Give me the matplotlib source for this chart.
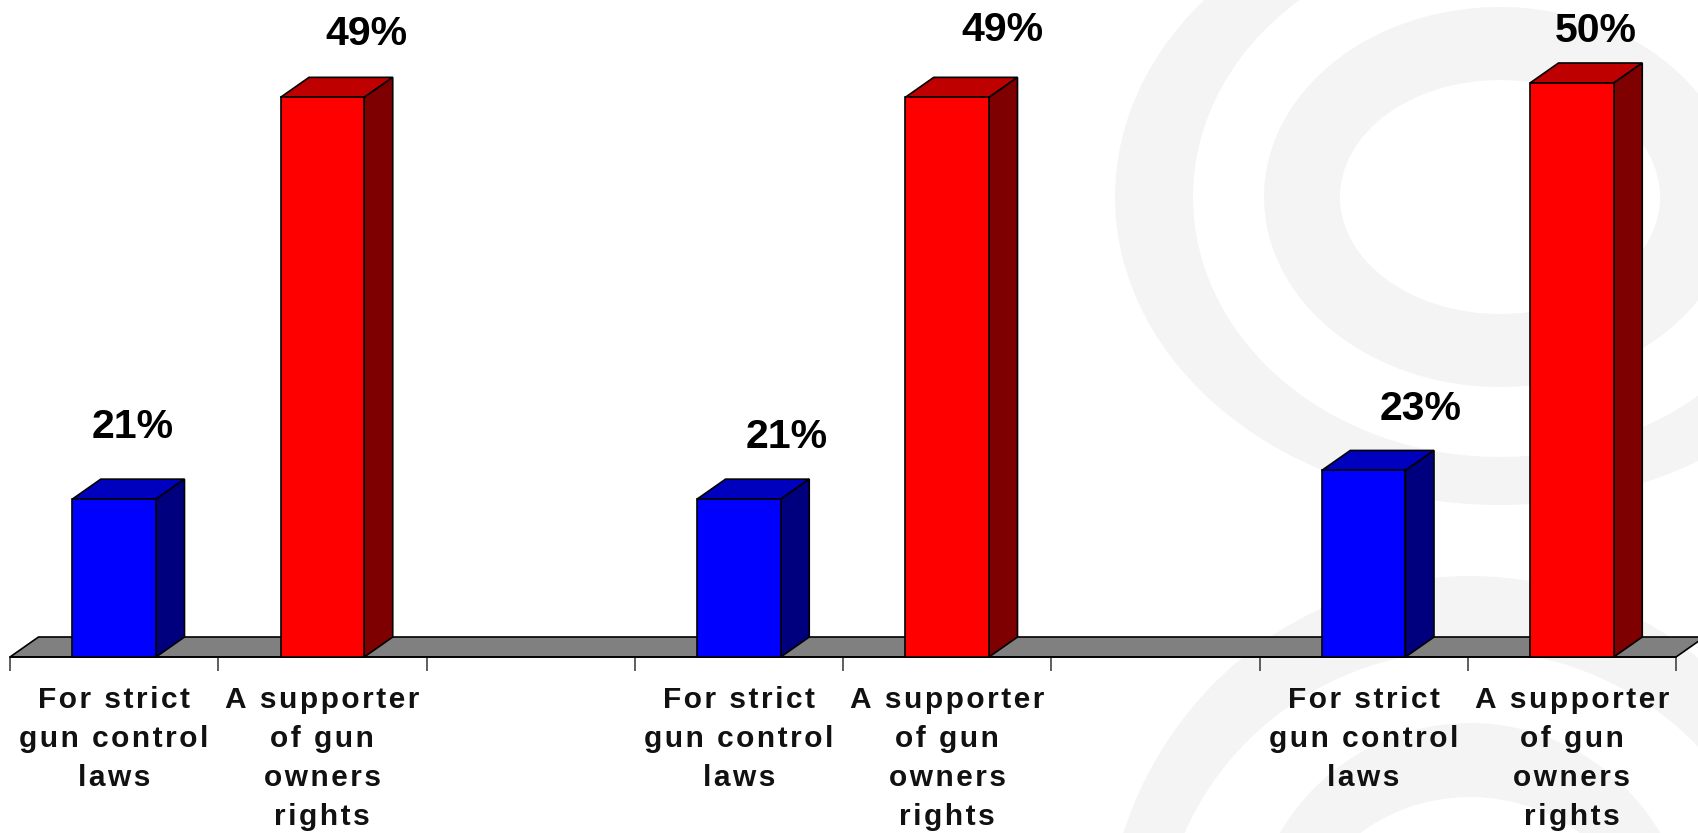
import matplotlib
matplotlib.use('Agg')
import matplotlib.pyplot as plt
from matplotlib.patches import Ellipse, Polygon
from matplotlib.transforms import IdentityTransform

plt.rcParams['font.family'] = ['Liberation Sans', 'DejaVu Sans']

# slots 2 and 5 on the category axis are empty spacers
slots = [0, 1, 3, 4, 6, 7]
labels = ['For strict\ngun control\nlaws', 'A supporter\nof gun\nowners\nrights'] * 3
values = [21, 49, 21, 49, 23, 50]
value_labels = ['21%', '49%', '21%', '49%', '23%', '50%']
n_slots = 8
y_base = 10
y_top = 50

front_colors = {'blue': '#0000ff', 'red': '#ff0000'}
top_colors = {'blue': '#0000bf', 'red': '#bf0000'}
side_colors = {'blue': '#00007f', 'red': '#7f0000'}
series = ['blue', 'red'] * 3


def tracked(s):
    # the source labels are letter spaced, matplotlib has no tracking option
    return '\n'.join('\u200a'.join(line) for line in s.split('\n'))


W, H = 1698, 833
fig = plt.figure(figsize=(W / 100, H / 100), dpi=100, facecolor='white')

# faint swirl behind the chart: (cx, cy, outer rx, outer ry, inner rx, inner ry) in px from top left
swirl = [
    (1500, 197, 385, 308, 307, 260),
    (1500, 197, 236, 190, 160, 117),
    (1470, 950, 365, 374, 310, 300),
    (1470, 950, 222, 227, 170, 153),
]
for cx, cy, rx, ry, irx, iry in swirl:
    fig.add_artist(Ellipse((cx, H - cy), 2 * rx, 2 * ry, color='#f4f4f4', lw=0, zorder=-2,
                           transform=IdentityTransform()))
    fig.add_artist(Ellipse((cx, H - cy), 2 * irx, 2 * iry, color='white', lw=0, zorder=-2,
                           transform=IdentityTransform()))

ax = fig.add_axes([10 / W, (H - 657) / H, 1666 / W, 574 / H])
ax.patch.set_alpha(0)
ax.set_xlim(0, n_slots)
ax.set_ylim(y_base, y_top)

# depth of the fake 3d, in data units
dx = 28.5 / (1666 / n_slots)
dy = 20 / (574 / (y_top - y_base))
bar_w = 0.402
lw = 1.2

floor = Polygon([(0, y_base), (dx, y_base + dy), (n_slots + dx, y_base + dy), (n_slots, y_base)],
                facecolor='#808080', edgecolor='black', lw=lw, clip_on=False, zorder=1)
ax.add_patch(floor)

for slot, v, s in zip(slots, values, series):
    x0 = slot + 0.5 - bar_w / 2
    x1 = slot + 0.5 + bar_w / 2
    ax.bar(x0, v - y_base, bar_w, bottom=y_base, align='edge', color=front_colors[s], edgecolor='black',
           lw=lw, clip_on=False, zorder=3)
    ax.add_patch(Polygon([(x0, v), (x0 + dx, v + dy), (x1 + dx, v + dy), (x1, v)], facecolor=top_colors[s],
                         edgecolor='black', lw=lw, clip_on=False, zorder=2))
    ax.add_patch(Polygon([(x1, y_base), (x1 + dx, y_base + dy), (x1 + dx, v + dy), (x1, v)],
                         facecolor=side_colors[s], edgecolor='black', lw=lw, clip_on=False, zorder=2))

# value labels sit above the bars, nudged by hand like the original
nudge = [(19, 52), (44, 43), (48, 42), (55, 47), (57, 41), (24, 32)]
for slot, v, txt, (nx, ny) in zip(slots, values, value_labels, nudge):
    ax.annotate(txt, (slot + 0.5, v), xytext=(nx, ny + 20), textcoords='offset pixels', ha='center', va='center',
                fontsize=29.5, fontweight='bold', annotation_clip=False)

for side in ['left', 'right', 'top']:
    ax.spines[side].set_visible(False)
ax.spines['bottom'].set_linewidth(lw)
ax.set_yticks([])
ax.set_xticks(range(n_slots + 1))
ax.set_xticklabels([])
ax.tick_params(axis='x', which='major', length=10, width=1.1, color='#333333')
ax.set_xticks([s + 0.5 for s in slots], [tracked(t) for t in labels], minor=True)
ax.tick_params(axis='x', which='minor', length=0, pad=21)
for t in ax.get_xticklabels(minor=True):
    t.set_fontsize(21.5)
    t.set_fontweight('bold')
    t.set_linespacing(1.49)
    t.set_color('#111111')

fig.savefig('out.png', dpi=100)
